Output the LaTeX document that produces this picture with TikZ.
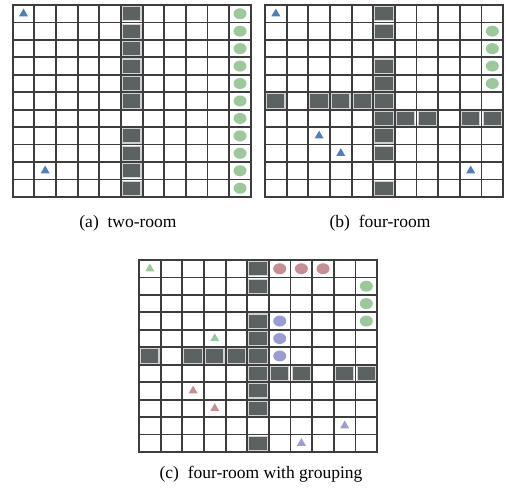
\documentclass[tikz,border=0pt]{standalone}
\usepackage{fontspec}
\setmainfont{Liberation Serif}
\usetikzlibrary{shapes.geometric}

\definecolor{wallgray}{HTML}{5C6261}
\definecolor{gridgray}{HTML}{3D3D3D}
\definecolor{agentblue}{HTML}{4F7DC0}
\definecolor{goalgreen}{HTML}{9CC89C}
\definecolor{grpred}{HTML}{C88E96}
\definecolor{grpviolet}{HTML}{9C9CD4}

% walls of the four-room layout (column/row)
\newcommand{\fourroomwalls}{5/0,5/1,5/3,5/4,5/5,5/6,5/7,5/8,5/10,0/5,2/5,3/5,4/5,6/6,7/6,9/6,10/6}

\begin{document}
\begin{tikzpicture}[
      x=1pt, y=-1pt,
      every node/.style={font=\fontsize{17.5}{21}\selectfont},
      cell/.style={x=21.65pt, y=-17.45pt},
      wall/.style={draw=gray!35, line width=1.1pt, fill=wallgray, minimum width=18.4pt, minimum height=14.2pt, inner sep=0pt},
      agent/.style={regular polygon, regular polygon sides=3, fill=#1, minimum size=10.4pt, inner sep=0pt},
      goal/.style={ellipse, fill=#1, minimum width=13pt, minimum height=11pt, inner sep=0pt},
      gridline/.style={draw=gridgray, line width=1.8pt, line cap=rect}
   ]
   \useasboundingbox (0,0) rectangle (506,489);

   % (a) two-room
   \begin{scope}[shift={(12.7,5)}, cell]
      \foreach \r in {0,...,5,7,8,9,10}
         \node[wall] (aw\r) at (5.5,\r+.5) {};
      \foreach \i in {0,...,11} {
         \draw[gridline] (\i,0) -- (\i,11);
         \draw[gridline] (0,\i) -- (11,\i);
      }
      \foreach \r in {0,...,10}
         \node[goal=goalgreen] (ag\r) at (10.5,\r+.5) {};
      \node[agent=agentblue] (aa1) at (0.5,0.5) {};
      \node[agent=agentblue] (aa2) at (1.5,9.5) {};
   \end{scope}

   % (b) four-room
   \begin{scope}[shift={(265,5)}, cell]
      \foreach \c/\r in \fourroomwalls
         \node[wall] (bw\c-\r) at (\c+.5,\r+.5) {};
      \foreach \i in {0,...,11} {
         \draw[gridline] (\i,0) -- (\i,11);
         \draw[gridline] (0,\i) -- (11,\i);
      }
      \foreach \r in {1,...,4}
         \node[goal=goalgreen] (bg\r) at (10.5,\r+.5) {};
      \foreach \c/\r [count=\k] in {0/0,2/7,3/8,9/9}
         \node[agent=agentblue] (ba\k) at (\c+.5,\r+.5) {};
   \end{scope}

   % (c) four-room with grouping
   \begin{scope}[shift={(139,260)}, cell]
      \foreach \c/\r in \fourroomwalls
         \node[wall] (cw\c-\r) at (\c+.5,\r+.5) {};
      \foreach \i in {0,...,11} {
         \draw[gridline] (\i,0) -- (\i,11);
         \draw[gridline] (0,\i) -- (11,\i);
      }
      % goals
      \foreach \c in {6,7,8}
         \node[goal=grpred] (cgr\c) at (\c+.5,0.5) {};
      \foreach \r in {1,2,3}
         \node[goal=goalgreen] (cgg\r) at (10.5,\r+.5) {};
      \foreach \r in {3,4,5}
         \node[goal=grpviolet] (cgv\r) at (6.5,\r+.5) {};
      % agents
      \node[agent=goalgreen] (cag1) at (0.5,0.5) {};
      \node[agent=goalgreen] (cag2) at (3.5,4.5) {};
      \node[agent=grpred] (car1) at (2.5,7.5) {};
      \node[agent=grpred] (car2) at (3.5,8.5) {};
      \node[agent=grpviolet] (cav1) at (9.5,9.5) {};
      \node[agent=grpviolet] (cav2) at (7.5,10.5) {};
   \end{scope}

   % captions
   \node[anchor=base] (capa) at (128,228) {(a)\hspace{0.5em}two-room};
   \node[anchor=base] (capb) at (380,228) {(b)\hspace{0.5em}four-room};
   \node[anchor=base] (capc) at (261,478) {(c)\hspace{0.5em}four-room with grouping};
\end{tikzpicture}
\end{document}
